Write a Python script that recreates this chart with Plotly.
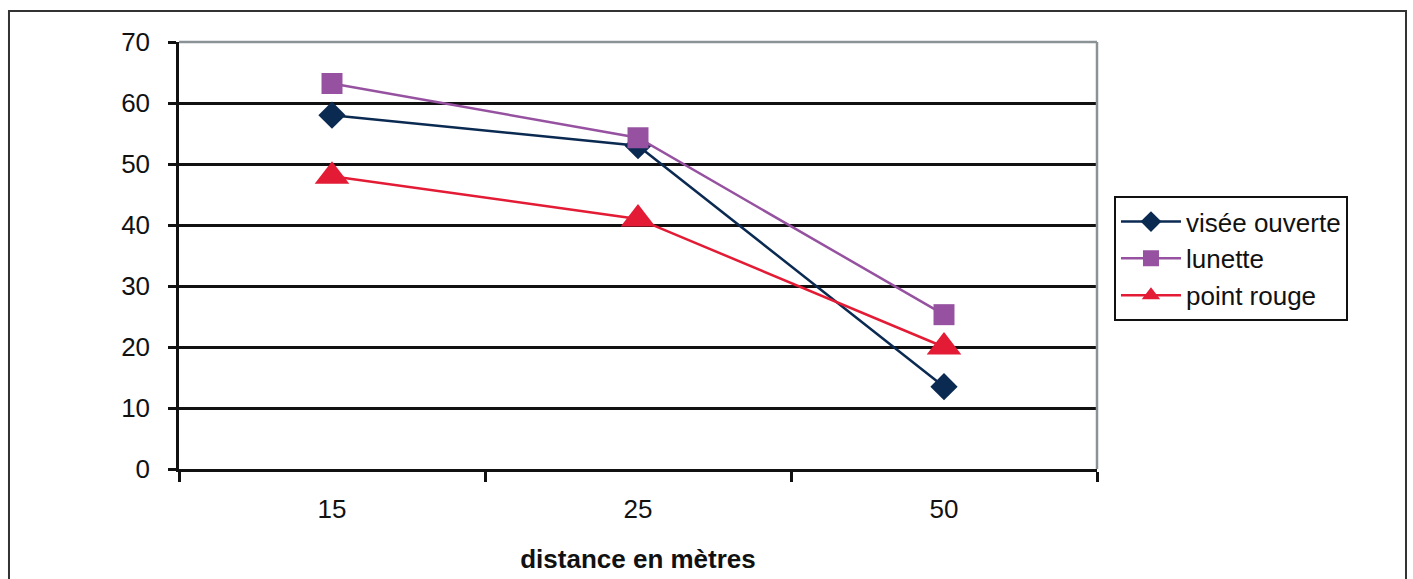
import plotly.graph_objects as go

categories = ["15", "25", "50"]
visee_ouverte = [58, 53, 13.5]
lunette = [63.2, 54.3, 25.3]
point_rouge = [48, 41, 20]
y_ticks = [0, 10, 20, 30, 40, 50, 60, 70]

series = [
    ("visée ouverte", visee_ouverte, "#0b2a52", "diamond", 21),
    ("lunette", lunette, "#9652a0", "square", 21),
    ("point rouge", point_rouge, "#e31b35", "triangle-up", 30),
]

fig = go.Figure()
for i, (name, vals, color, sym, size) in enumerate(series):
    fig.add_trace(go.Scatter(
        x=categories, y=vals, name=name, mode="lines+markers",
        legendgroup=f"g{i}",
        line=dict(color=color, width=2.5),
        marker=dict(symbol=sym, size=size, color=color, line=dict(width=0)),
    ))

FONT = "Liberation Sans, Arial, sans-serif"
fig.update_layout(
    width=1413, height=579,
    margin=dict(l=179, r=316, t=42, b=110),
    paper_bgcolor="white", plot_bgcolor="white",
    font=dict(family=FONT, size=26, color="#111"),
    showlegend=True,
    legend=dict(
        x=1.0185, y=0.639, xanchor="left", yanchor="top",
        bordercolor="#111", borderwidth=2, bgcolor="white",
        font=dict(family=FONT, size=26, color="#111"),
        tracegroupgap=0, itemwidth=60,
    ),
    xaxis=dict(
        type="category", range=[-0.5, 2.5], tickson="boundaries",
        showline=True, linecolor="#111", linewidth=2.5,
        ticks="outside", ticklen=10, tickwidth=2.5, tickcolor="#111",
        showgrid=False, zeroline=False, ticklabelstandoff=15,
        tickfont=dict(size=26), automargin=False,
        title=dict(text="<b>distance en mètres</b>", font=dict(size=26), standoff=27),
    ),
    yaxis=dict(
        range=[0, 70], tickvals=y_ticks,
        showline=True, linecolor="#111", linewidth=2.5,
        ticks="outside", ticklen=8, tickwidth=2.5, tickcolor="#111",
        showgrid=True, gridcolor="#111", gridwidth=2.5,
        zeroline=False, ticklabelstandoff=13,
        tickfont=dict(size=26), automargin=False,
    ),
    shapes=[
        dict(type="line", xref="paper", yref="paper", x0=0, x1=1, y0=1, y1=1,
             line=dict(color="#8a9296", width=2.5)),
        dict(type="line", xref="paper", yref="paper", x0=1, x1=1, y0=0, y1=1,
             line=dict(color="#8a9296", width=2.5)),
        dict(type="rect", xref="paper", yref="paper",
             x0=-0.1852, x1=1.3366, y0=-0.4, y1=1.0726,
             line=dict(color="#333", width=2), layer="below"),
    ],
)

fig.write_html("out.html")
